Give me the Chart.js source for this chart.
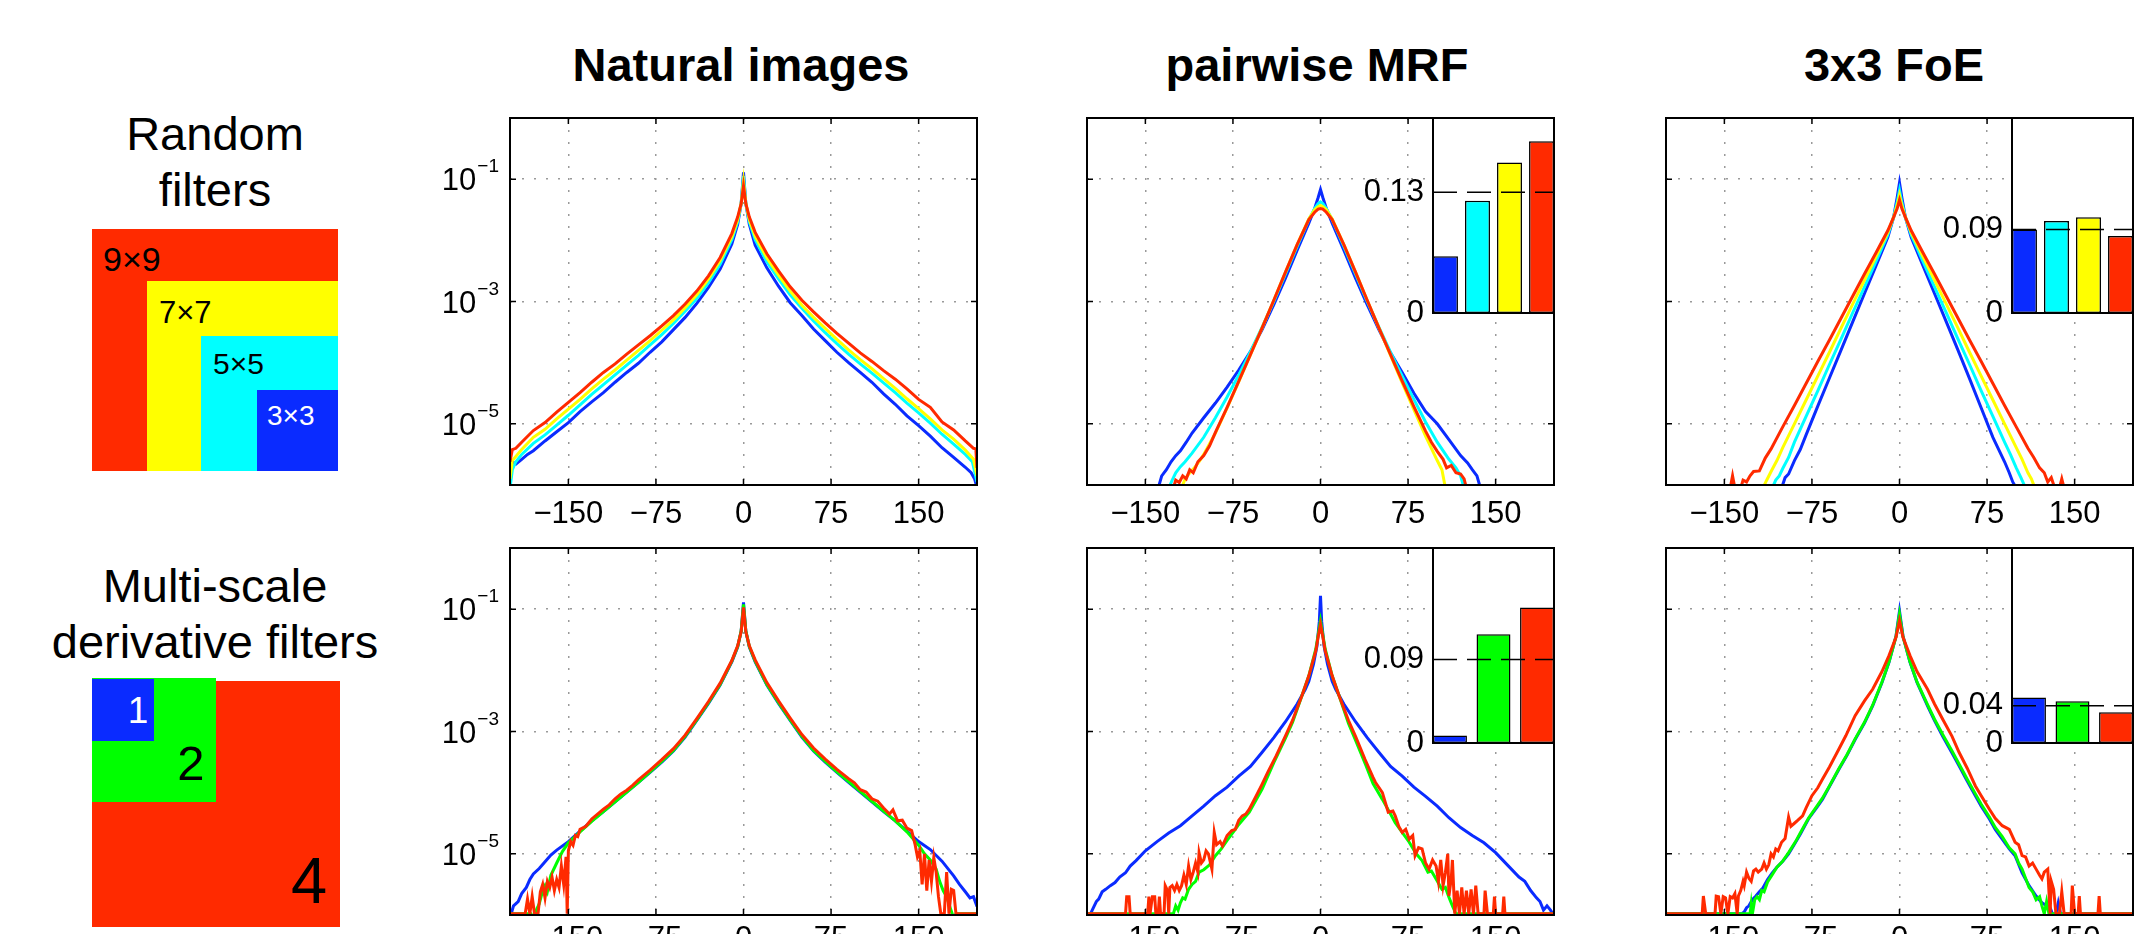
<!DOCTYPE html>
<html>
<head>
<meta charset="utf-8">
<script src="https://cdn.jsdelivr.net/npm/chart.js@4.4.1/dist/chart.umd.min.js"></script>
<style>
  html, body { margin: 0; padding: 0; width: 2146px; height: 934px; overflow: hidden; background: #fff; }
  body { position: relative; font-family: "Liberation Sans", Arial, Helvetica, sans-serif; color: #000; }
  canvas { position: absolute; }
  .title { position: absolute; width: 600px; text-align: center; font-weight: bold; font-size: 47px; line-height: 47px; white-space: nowrap; }
  .side { position: absolute; left: 5px; width: 420px; text-align: center; font-size: 47px; line-height: 56px; }
  .sq { position: absolute; }
  .lbl { position: absolute; line-height: 1; white-space: nowrap; }
</style>
</head>
<body>

<div class="title" style="left:441px; top:41px">Natural images</div>
<div class="title" style="left:1017px; top:41px">pairwise MRF</div>
<div class="title" style="left:1594px; top:41px">3x3 FoE</div>

<div class="side" style="top:106px">Random<br>filters</div>
<div class="sq" style="left:92px; top:229px; width:246px; height:242px; background:#ff2a00"></div>
<div class="sq" style="left:147px; top:281px; width:191px; height:190px; background:#ffff00"></div>
<div class="sq" style="left:201px; top:336px; width:137px; height:135px; background:#00ffff"></div>
<div class="sq" style="left:257px; top:390px; width:81px; height:81px; background:#0a2bff"></div>
<div class="lbl" style="left:103px; top:242px; font-size:34px">9×9</div>
<div class="lbl" style="left:159px; top:297px; font-size:31px">7×7</div>
<div class="lbl" style="left:213px; top:349px; font-size:30px">5×5</div>
<div class="lbl" style="left:267px; top:402px; font-size:28px; color:#fff">3×3</div>

<div class="side" style="top:558px">Multi-scale<br>derivative filters</div>
<div class="sq" style="left:92px; top:681px; width:248px; height:246px; background:#ff2a00"></div>
<div class="sq" style="left:92px; top:678px; width:124px; height:124px; background:#00ff00"></div>
<div class="sq" style="left:92px; top:679px; width:62px; height:62px; background:#0a2bff"></div>
<div class="lbl" style="left:88px; width:100px; text-align:center; top:692px; font-size:37px; color:#fff">1</div>
<div class="lbl" style="left:141px; width:100px; text-align:center; top:739px; font-size:49px">2</div>
<div class="lbl" style="left:259px; width:100px; text-align:center; top:848px; font-size:65px">4</div>

<script>
const FONT = '"Liberation Sans", Arial, Helvetica, sans-serif';
Chart.defaults.font.family = FONT;
Chart.defaults.color = '#000';

const BLUE = '#0a2bff', CYAN = '#00ffff', YELLOW = '#ffff00', RED = '#ff2a00', GREEN = '#00ff00';
const randColors = [BLUE, CYAN, YELLOW, RED];
const multiColors = [BLUE, GREEN, RED];

const xTicks = [-150, -75, 0, 75, 150];
const yTickExps = [-1, -3, -5];

// curves: [filter response, log10 density]

// Random filters / natural images
const natRandBlue = [[-200,-5.98],[-198,-5.62],[-195,-5.66],[-190,-5.58],[-185,-5.5],[-180,-5.44],[-170,-5.28],[-160,-5.13],[-150,-4.98],[-140,-4.8],[-130,-4.64],[-120,-4.49],[-110,-4.32],[-100,-4.16],[-90,-4.01],[-80,-3.83],[-70,-3.66],[-60,-3.46],[-50,-3.26],[-40,-3.03],[-30,-2.77],[-20,-2.47],[-10,-2.06],[-5,-1.74],[-2,-1.4],[0,-0.89],[2,-1.4],[5,-1.74],[10,-2.08],[20,-2.45],[30,-2.75],[40,-3.02],[50,-3.23],[60,-3.45],[70,-3.64],[80,-3.83],[90,-4.0],[100,-4.16],[110,-4.32],[120,-4.51],[130,-4.68],[140,-4.87],[150,-5.03],[160,-5.2],[170,-5.39],[180,-5.55],[190,-5.71],[195,-5.8],[198,-5.9],[200,-6.05]];
const natRandCyan = [[-200,-6.05],[-198,-5.75],[-195,-5.62],[-190,-5.5],[-180,-5.32],[-170,-5.18],[-160,-5.02],[-150,-4.86],[-140,-4.69],[-130,-4.52],[-120,-4.36],[-110,-4.2],[-100,-4.04],[-90,-3.88],[-80,-3.71],[-70,-3.54],[-60,-3.36],[-50,-3.16],[-40,-2.95],[-30,-2.69],[-20,-2.39],[-10,-1.99],[-5,-1.7],[-2,-1.4],[0,-0.95],[2,-1.4],[5,-1.7],[10,-1.99],[20,-2.35],[30,-2.63],[40,-2.89],[50,-3.11],[60,-3.32],[70,-3.51],[80,-3.69],[90,-3.86],[100,-4.02],[110,-4.17],[120,-4.33],[130,-4.49],[140,-4.66],[150,-4.82],[160,-4.99],[170,-5.17],[180,-5.33],[190,-5.5],[196,-5.62],[200,-5.95]];
const natRandYellow = [[-200,-5.9],[-198,-5.6],[-190,-5.42],[-180,-5.22],[-170,-5.09],[-160,-4.92],[-150,-4.76],[-140,-4.6],[-130,-4.43],[-120,-4.27],[-110,-4.12],[-100,-3.96],[-90,-3.8],[-80,-3.64],[-70,-3.47],[-60,-3.3],[-50,-3.1],[-40,-2.89],[-30,-2.63],[-20,-2.33],[-10,-1.94],[-5,-1.66],[-2,-1.4],[0,-1.04],[2,-1.4],[5,-1.66],[10,-1.93],[20,-2.29],[30,-2.57],[40,-2.83],[50,-3.06],[60,-3.26],[70,-3.44],[80,-3.62],[90,-3.79],[100,-3.95],[110,-4.1],[120,-4.26],[130,-4.42],[140,-4.59],[150,-4.75],[160,-4.92],[170,-5.1],[180,-5.25],[190,-5.43],[197,-5.58],[200,-5.85]];
const natRandRed = [[-200,-5.62],[-198,-5.42],[-195,-5.4],[-190,-5.3],[-180,-5.11],[-170,-4.98],[-160,-4.81],[-150,-4.65],[-140,-4.49],[-130,-4.32],[-120,-4.16],[-110,-4.02],[-100,-3.86],[-90,-3.71],[-80,-3.56],[-70,-3.4],[-60,-3.23],[-50,-3.04],[-40,-2.83],[-30,-2.58],[-20,-2.28],[-10,-1.89],[-5,-1.62],[-2,-1.4],[0,-1.11],[2,-1.4],[5,-1.62],[10,-1.87],[20,-2.22],[30,-2.5],[40,-2.76],[50,-2.98],[60,-3.17],[70,-3.35],[80,-3.52],[90,-3.68],[100,-3.84],[110,-3.98],[120,-4.13],[130,-4.27],[140,-4.43],[150,-4.6],[160,-4.73],[170,-4.97],[180,-5.1],[190,-5.28],[197,-5.4],[199,-5.41],[200,-5.72]];

// Random filters / pairwise MRF
const mrfRandBlue = [[-139,-6.05],[-136,-5.85],[-132,-5.75],[-128,-5.62],[-124,-5.52],[-120,-5.44],[-115,-5.3],[-110,-5.15],[-100,-4.9],[-90,-4.66],[-80,-4.4],[-70,-4.12],[-60,-3.82],[-50,-3.46],[-40,-3.05],[-30,-2.62],[-20,-2.16],[-10,-1.72],[-5,-1.48],[-2,-1.3],[0,-1.17],[2,-1.3],[5,-1.48],[10,-1.72],[20,-2.16],[30,-2.62],[40,-3.05],[50,-3.46],[60,-3.84],[70,-4.16],[80,-4.5],[90,-4.8],[100,-5.0],[110,-5.26],[120,-5.52],[126,-5.64],[130,-5.75],[134,-5.85],[137,-6.05]];
const mrfRandCyan = [[-130,-6.05],[-127,-5.92],[-124,-5.8],[-120,-5.7],[-116,-5.62],[-110,-5.48],[-100,-5.22],[-90,-4.9],[-80,-4.56],[-70,-4.2],[-60,-3.82],[-50,-3.42],[-40,-3.0],[-30,-2.55],[-20,-2.1],[-10,-1.66],[-5,-1.48],[-2,-1.4],[0,-1.37],[2,-1.4],[5,-1.48],[10,-1.66],[20,-2.1],[30,-2.55],[40,-3.0],[50,-3.42],[60,-3.83],[70,-4.22],[80,-4.6],[90,-4.97],[100,-5.3],[110,-5.58],[116,-5.72],[120,-5.85],[123,-6.05]];
const mrfRandYellow = [[-119,-6.05],[-116,-5.9],[-112,-5.8],[-108,-5.72],[-104,-5.62],[-100,-5.5],[-90,-5.15],[-80,-4.74],[-70,-4.31],[-60,-3.87],[-50,-3.43],[-40,-2.98],[-30,-2.52],[-20,-2.07],[-10,-1.65],[-5,-1.5],[-2,-1.45],[0,-1.43],[2,-1.45],[5,-1.5],[10,-1.65],[20,-2.07],[30,-2.52],[40,-2.98],[50,-3.43],[60,-3.88],[70,-4.33],[80,-4.77],[90,-5.2],[100,-5.6],[104,-5.75],[107,-6.05]];
const mrfRandRed = [[-126,-6.05],[-124,-5.92],[-121,-5.96],[-118,-5.85],[-115,-5.9],[-112,-5.75],[-109,-5.8],[-105,-5.62],[-100,-5.52],[-95,-5.36],[-90,-5.14],[-80,-4.73],[-70,-4.3],[-60,-3.87],[-50,-3.43],[-40,-2.98],[-30,-2.52],[-20,-2.07],[-10,-1.66],[-5,-1.54],[-2,-1.49],[0,-1.48],[2,-1.49],[5,-1.54],[10,-1.66],[20,-2.07],[30,-2.52],[40,-2.98],[50,-3.43],[60,-3.87],[70,-4.3],[80,-4.72],[90,-5.12],[95,-5.3],[100,-5.45],[105,-5.58],[108,-5.72],[112,-5.68],[116,-5.8],[120,-5.82],[123,-5.9],[125,-6.05]];

// Random filters / 3x3 FoE
const foeRandBlue = [[-101,-6.05],[-98,-5.88],[-95,-5.82],[-90,-5.6],[-85,-5.42],[-80,-5.18],[-70,-4.71],[-60,-4.25],[-50,-3.79],[-40,-3.33],[-30,-2.87],[-20,-2.41],[-10,-1.95],[-5,-1.62],[-2,-1.3],[0,-1.06],[2,-1.3],[5,-1.62],[10,-1.95],[20,-2.41],[30,-2.87],[40,-3.33],[50,-3.79],[60,-4.26],[70,-4.74],[80,-5.22],[85,-5.42],[90,-5.62],[94,-5.8],[97,-5.95],[100,-6.05]];
const foeRandCyan = [[-109,-6.05],[-106,-5.92],[-103,-5.85],[-100,-5.73],[-95,-5.55],[-90,-5.3],[-80,-4.88],[-70,-4.46],[-60,-4.03],[-50,-3.61],[-40,-3.18],[-30,-2.76],[-20,-2.34],[-10,-1.91],[-5,-1.62],[-2,-1.38],[0,-1.18],[2,-1.38],[5,-1.62],[10,-1.91],[20,-2.34],[30,-2.76],[40,-3.18],[50,-3.61],[60,-4.03],[70,-4.46],[80,-4.88],[90,-5.3],[95,-5.5],[100,-5.72],[104,-5.88],[108,-6.05]];
const foeRandYellow = [[-117,-6.05],[-114,-5.93],[-110,-5.78],[-105,-5.6],[-100,-5.39],[-90,-5.0],[-80,-4.61],[-70,-4.22],[-60,-3.83],[-50,-3.43],[-40,-3.04],[-30,-2.65],[-20,-2.26],[-10,-1.87],[-5,-1.62],[-2,-1.43],[0,-1.26],[2,-1.43],[5,-1.62],[10,-1.87],[20,-2.26],[30,-2.65],[40,-3.04],[50,-3.43],[60,-3.83],[70,-4.22],[80,-4.61],[90,-5.0],[100,-5.39],[105,-5.58],[110,-5.8],[113,-5.9],[116,-6.05]];
const foeRandRed = [[-145,-6.05],[-143,-5.85],[-141,-6.05],[-136,-6.05],[-134,-5.92],[-131,-5.95],[-128,-5.85],[-125,-5.78],[-120,-5.77],[-115,-5.56],[-110,-5.41],[-100,-5.05],[-90,-4.7],[-80,-4.34],[-70,-3.98],[-60,-3.63],[-50,-3.27],[-40,-2.91],[-30,-2.55],[-20,-2.2],[-10,-1.84],[-5,-1.62],[-2,-1.48],[0,-1.34],[2,-1.48],[5,-1.62],[10,-1.84],[20,-2.2],[30,-2.55],[40,-2.91],[50,-3.27],[60,-3.63],[70,-3.98],[80,-4.34],[90,-4.7],[100,-5.05],[110,-5.4],[115,-5.55],[120,-5.72],[124,-5.8],[127,-5.95],[130,-5.88],[133,-6.05],[137,-6.05],[139,-5.9],[141,-6.05]];

// Multi-scale derivative filters / natural images
const natMultiBlue = [[-200,-6.05],[-197,-5.85],[-193,-5.78],[-190,-5.65],[-186,-5.55],[-183,-5.42],[-180,-5.33],[-175,-5.24],[-170,-5.13],[-165,-5.02],[-160,-4.94],[-150,-4.8],[-140,-4.63],[-130,-4.46],[-120,-4.31],[-110,-4.15],[-100,-3.99],[-90,-3.83],[-80,-3.67],[-70,-3.5],[-60,-3.32],[-50,-3.09],[-40,-2.82],[-30,-2.54],[-20,-2.24],[-10,-1.86],[-5,-1.62],[-2,-1.36],[0,-0.89],[2,-1.36],[5,-1.62],[10,-1.86],[20,-2.24],[30,-2.54],[40,-2.82],[50,-3.09],[60,-3.32],[70,-3.5],[80,-3.67],[90,-3.83],[100,-3.99],[110,-4.15],[120,-4.31],[130,-4.46],[140,-4.63],[150,-4.8],[160,-4.93],[170,-5.12],[180,-5.36],[185,-5.5],[190,-5.62],[194,-5.72],[197,-5.7],[200,-5.86]];
const natMultiGreen = [[-200,-5.98],[-182,-5.98],[-180,-6.05],[-177,-5.9],[-175,-5.82],[-172,-5.6],[-170,-5.52],[-168,-5.62],[-165,-5.35],[-160,-5.15],[-155,-4.96],[-150,-4.82],[-140,-4.64],[-130,-4.47],[-120,-4.31],[-110,-4.15],[-100,-3.99],[-90,-3.83],[-80,-3.66],[-70,-3.49],[-60,-3.31],[-50,-3.08],[-40,-2.81],[-30,-2.53],[-20,-2.23],[-10,-1.85],[-5,-1.61],[-2,-1.36],[0,-0.92],[2,-1.36],[5,-1.61],[10,-1.85],[20,-2.23],[30,-2.53],[40,-2.81],[50,-3.08],[60,-3.31],[70,-3.49],[80,-3.66],[90,-3.82],[100,-3.98],[110,-4.14],[120,-4.3],[130,-4.46],[140,-4.64],[150,-4.86],[155,-5.0],[160,-5.1],[165,-5.25],[168,-5.45],[171,-5.6],[174,-5.7],[177,-5.88],[180,-6.05],[182,-5.98],[200,-5.98]];
const natMultiRed = [[-200,-5.98],[-187,-5.98],[-185,-5.74],[-183,-5.98],[-181,-5.7],[-179,-5.98],[-176,-5.98],[-174,-5.62],[-172,-5.5],[-170,-5.72],[-168,-5.45],[-166,-5.55],[-164,-5.38],[-162,-5.6],[-160,-5.42],[-158,-5.55],[-156,-5.2],[-154,-5.5],[-152,-5.05],[-151,-5.98],[-150,-4.95],[-148,-4.8],[-146,-4.86],[-144,-4.7],[-142,-4.72],[-140,-4.6],[-135,-4.55],[-130,-4.43],[-125,-4.35],[-120,-4.27],[-115,-4.2],[-110,-4.1],[-105,-4.02],[-100,-3.96],[-95,-3.88],[-90,-3.79],[-80,-3.63],[-70,-3.46],[-60,-3.28],[-50,-3.06],[-40,-2.79],[-30,-2.51],[-20,-2.21],[-10,-1.84],[-5,-1.6],[-2,-1.37],[0,-0.97],[2,-1.37],[5,-1.6],[10,-1.83],[20,-2.2],[30,-2.5],[40,-2.78],[50,-3.05],[60,-3.27],[70,-3.45],[80,-3.62],[90,-3.77],[95,-3.84],[100,-3.95],[105,-3.99],[110,-4.1],[115,-4.14],[120,-4.25],[125,-4.35],[128,-4.28],[132,-4.46],[136,-4.45],[140,-4.58],[144,-4.62],[147,-4.85],[149,-5.05],[151,-4.95],[153,-5.5],[155,-5.0],[157,-5.6],[159,-5.1],[161,-5.45],[163,-5.06],[165,-5.3],[167,-5.7],[169,-5.98],[172,-5.98],[174,-5.3],[176,-5.98],[178,-5.58],[180,-5.6],[182,-5.98],[200,-5.98]];

// Multi-scale derivative filters / pairwise MRF
const mrfMultiBlue = [[-200,-5.98],[-197,-5.98],[-195,-5.9],[-192,-5.78],[-190,-5.74],[-187,-5.62],[-184,-5.58],[-180,-5.52],[-176,-5.47],[-172,-5.38],[-167,-5.31],[-163,-5.2],[-158,-5.11],[-150,-4.95],[-140,-4.8],[-130,-4.66],[-120,-4.54],[-110,-4.38],[-100,-4.22],[-90,-4.05],[-80,-3.91],[-70,-3.73],[-60,-3.57],[-50,-3.34],[-40,-3.1],[-30,-2.84],[-20,-2.55],[-13,-2.31],[-10,-2.18],[-6,-1.9],[-3,-1.6],[-1,-1.2],[0,-0.78],[1,-1.2],[3,-1.6],[6,-1.9],[10,-2.18],[13,-2.31],[20,-2.55],[30,-2.84],[40,-3.1],[50,-3.34],[60,-3.57],[70,-3.73],[80,-3.91],[90,-4.06],[100,-4.22],[110,-4.41],[120,-4.57],[130,-4.7],[140,-4.82],[150,-4.98],[160,-5.18],[170,-5.38],[175,-5.45],[180,-5.6],[185,-5.72],[188,-5.78],[191,-5.92],[194,-5.85],[197,-5.92],[199,-5.98],[200,-5.98]];
const mrfMultiGreen = [[-200,-5.98],[-126,-5.98],[-124,-5.85],[-122,-5.92],[-120,-5.8],[-118,-5.72],[-116,-5.74],[-113,-5.58],[-110,-5.5],[-107,-5.45],[-104,-5.3],[-100,-5.26],[-95,-5.18],[-90,-5.03],[-85,-4.92],[-80,-4.78],[-73,-4.6],[-70,-4.52],[-61,-4.32],[-50,-3.94],[-40,-3.51],[-30,-3.11],[-24,-2.85],[-16,-2.42],[-10,-2.09],[-4,-1.65],[-2,-1.42],[0,-1.19],[2,-1.42],[4,-1.65],[10,-2.09],[16,-2.42],[24,-2.87],[30,-3.14],[39,-3.56],[45,-3.85],[53,-4.11],[60,-4.35],[64,-4.49],[70,-4.65],[76,-4.81],[82,-5.0],[87,-5.11],[92,-5.3],[95,-5.28],[99,-5.41],[104,-5.58],[107,-5.55],[110,-5.71],[113,-5.85],[116,-5.98],[200,-5.98]];
const mrfMultiRed = [[-200,-5.98],[-167,-5.98],[-166,-5.7],[-164,-5.7],[-163,-5.98],[-148,-5.98],[-147,-5.7],[-146,-5.98],[-144,-5.7],[-142,-5.7],[-141,-5.98],[-139,-5.98],[-138,-5.7],[-137,-5.98],[-134,-5.98],[-133,-5.52],[-131,-5.6],[-130,-5.98],[-129,-5.55],[-127,-5.52],[-125,-5.6],[-123,-5.5],[-121,-5.6],[-119,-5.52],[-117,-5.35],[-115,-5.5],[-113,-5.2],[-111,-5.42],[-109,-5.3],[-107,-5.15],[-105,-5.3],[-104,-4.98],[-102,-5.15],[-100,-5.1],[-98,-4.95],[-96,-5.0],[-93,-5.25],[-91,-4.65],[-89,-4.85],[-86,-4.8],[-84,-4.87],[-80,-4.7],[-76,-4.62],[-73,-4.6],[-70,-4.45],[-67,-4.38],[-64,-4.35],[-61,-4.27],[-55,-4.05],[-50,-3.86],[-45,-3.66],[-38,-3.4],[-30,-3.07],[-24,-2.82],[-16,-2.42],[-10,-2.09],[-4,-1.68],[-2,-1.45],[0,-1.25],[2,-1.45],[4,-1.68],[10,-2.09],[16,-2.42],[24,-2.82],[30,-3.08],[38,-3.45],[45,-3.75],[47,-3.83],[53,-4.0],[58,-4.32],[62,-4.3],[64,-4.38],[67,-4.55],[70,-4.65],[73,-4.6],[76,-4.76],[79,-4.7],[81,-5.03],[84,-4.9],[87,-4.92],[90,-5.15],[93,-5.25],[96,-5.1],[99,-5.2],[101,-5.45],[103,-5.1],[105,-5.52],[107,-5.3],[109,-5.0],[110,-5.69],[112,-5.4],[113,-5.1],[115,-5.98],[117,-5.6],[119,-5.98],[121,-5.55],[123,-5.98],[125,-5.6],[127,-5.98],[129,-5.58],[131,-5.98],[133,-5.52],[135,-5.98],[140,-5.98],[141,-5.6],[143,-5.98],[148,-5.98],[149,-5.7],[150,-5.98],[156,-5.98],[157,-5.7],[158,-5.98],[200,-5.98]];

// Multi-scale derivative filters / 3x3 FoE
const foeMultiBlue = [[-200,-5.98],[-135,-5.98],[-133,-5.95],[-131,-5.88],[-129,-5.85],[-126,-5.75],[-123,-5.69],[-120,-5.62],[-117,-5.56],[-113,-5.42],[-109,-5.31],[-105,-5.22],[-100,-5.12],[-95,-5.0],[-89,-4.81],[-85,-4.68],[-78,-4.43],[-70,-4.22],[-66,-4.11],[-60,-3.9],[-52,-3.62],[-45,-3.39],[-38,-3.13],[-30,-2.86],[-23,-2.58],[-15,-2.2],[-9,-1.87],[-3,-1.44],[0,-1.03],[3,-1.44],[9,-1.87],[15,-2.2],[24,-2.58],[30,-2.82],[37,-3.08],[45,-3.35],[51,-3.56],[58,-3.81],[65,-4.05],[70,-4.22],[77,-4.43],[82,-4.6],[88,-4.76],[94,-4.92],[99,-5.03],[105,-5.31],[111,-5.52],[117,-5.69],[122,-5.8],[126,-5.85],[129,-5.88],[131,-5.98],[134,-5.98],[136,-5.8],[138,-5.98],[200,-5.98]];
const foeMultiGreen = [[-200,-5.98],[-128,-5.98],[-127,-5.82],[-126,-5.98],[-124,-5.75],[-122,-5.7],[-120,-5.75],[-118,-5.6],[-116,-5.62],[-113,-5.46],[-109,-5.34],[-105,-5.22],[-100,-5.12],[-95,-4.98],[-89,-4.8],[-85,-4.66],[-78,-4.42],[-70,-4.2],[-66,-4.09],[-60,-3.89],[-52,-3.61],[-45,-3.38],[-38,-3.12],[-30,-2.85],[-23,-2.57],[-15,-2.19],[-9,-1.86],[-3,-1.45],[0,-1.08],[3,-1.45],[9,-1.86],[15,-2.19],[24,-2.56],[30,-2.8],[37,-3.05],[45,-3.32],[51,-3.53],[58,-3.78],[65,-4.02],[70,-4.19],[77,-4.4],[82,-4.57],[88,-4.72],[94,-4.9],[99,-5.0],[102,-5.15],[105,-5.25],[108,-5.4],[111,-5.55],[114,-5.62],[117,-5.75],[120,-5.7],[122,-5.85],[124,-5.98],[126,-5.78],[128,-5.98],[200,-5.98]];
const foeMultiRed = [[-200,-5.98],[-169,-5.98],[-168,-5.69],[-166,-5.98],[-158,-5.98],[-157,-5.69],[-155,-5.7],[-153,-5.98],[-151,-5.7],[-149,-5.72],[-147,-5.98],[-145,-5.7],[-143,-5.72],[-141,-5.65],[-139,-5.98],[-138,-5.69],[-136,-5.6],[-134,-5.45],[-133,-5.52],[-131,-5.3],[-129,-5.4],[-127,-5.45],[-125,-5.28],[-123,-5.25],[-121,-5.3],[-118,-5.25],[-116,-5.15],[-114,-5.25],[-112,-5.18],[-110,-5.0],[-108,-5.05],[-106,-4.92],[-104,-4.95],[-101,-4.81],[-98,-4.75],[-95,-4.4],[-93,-4.55],[-90,-4.5],[-87,-4.45],[-83,-4.38],[-80,-4.25],[-75,-4.05],[-70,-3.92],[-66,-3.78],[-60,-3.58],[-52,-3.29],[-46,-3.07],[-38,-2.74],[-30,-2.5],[-23,-2.31],[-15,-2.02],[-9,-1.76],[-3,-1.46],[0,-1.19],[3,-1.46],[9,-1.76],[15,-2.02],[24,-2.31],[30,-2.55],[37,-2.8],[45,-3.08],[51,-3.34],[58,-3.6],[65,-3.89],[70,-4.05],[77,-4.27],[82,-4.42],[88,-4.54],[94,-4.6],[99,-4.81],[102,-4.85],[105,-5.03],[108,-5.05],[111,-5.2],[114,-5.15],[117,-5.25],[120,-5.35],[122,-5.41],[124,-5.3],[127,-5.25],[129,-5.98],[130,-5.45],[132,-5.58],[134,-5.98],[137,-5.98],[139,-5.62],[141,-5.98],[147,-5.98],[148,-5.52],[150,-5.98],[153,-5.98],[154,-5.69],[155,-5.98],[170,-5.98],[171,-5.69],[172,-5.98],[200,-5.98]];

// inset bars and dashed reference levels
const mrfRandBars = [0.061, 0.121, 0.162, 0.185];
const foeRandBars = [0.090, 0.099, 0.103, 0.083];
const mrfMultiBars = [0.008, 0.117, 0.146];
const foeMultiBars = [0.049, 0.045, 0.033];
const mrfRandLevel = 0.13, foeRandLevel = 0.09, mrfMultiLevel = 0.09, foeMultiLevel = 0.04;
const INSET_MAX = 0.21;

const boxLefts = [510, 1087, 1666];
const boxTops = [118, 548];
const BOX_W = 467, BOX_H = 367;
const INSET_W = 121, INSET_H = 195;

const panels = [
  { row: 0, col: 0, colors: randColors, series: [natRandBlue, natRandCyan, natRandYellow, natRandRed] },
  { row: 0, col: 1, colors: randColors, series: [mrfRandBlue, mrfRandCyan, mrfRandYellow, mrfRandRed], bars: mrfRandBars, level: mrfRandLevel },
  { row: 0, col: 2, colors: randColors, series: [foeRandBlue, foeRandCyan, foeRandYellow, foeRandRed], bars: foeRandBars, level: foeRandLevel },
  { row: 1, col: 0, colors: multiColors, series: [natMultiBlue, natMultiGreen, natMultiRed] },
  { row: 1, col: 1, colors: multiColors, series: [mrfMultiBlue, mrfMultiGreen, mrfMultiRed], bars: mrfMultiBars, level: mrfMultiLevel },
  { row: 1, col: 2, colors: multiColors, series: [foeMultiBlue, foeMultiGreen, foeMultiRed], bars: foeMultiBars, level: foeMultiLevel },
];

function makeCanvas(left, top, w, h) {
  const cv = document.createElement('canvas');
  cv.width = w; cv.height = h;
  cv.style.left = left + 'px'; cv.style.top = top + 'px';
  cv.style.width = w + 'px'; cv.style.height = h + 'px';
  document.body.appendChild(cv);
  return cv;
}

// box, inward tick marks
const frame = {
  id: 'frame',
  afterDatasetsDraw(chart) {
    const {ctx, chartArea: a, scales} = chart;
    ctx.save();
    ctx.strokeStyle = '#000';
    ctx.lineWidth = 1.5;
    ctx.beginPath();
    for (const v of xTicks) {
      const px = scales.x.getPixelForValue(v);
      ctx.moveTo(px, a.bottom); ctx.lineTo(px, a.bottom - 6);
      ctx.moveTo(px, a.top); ctx.lineTo(px, a.top + 6);
    }
    for (const e of yTickExps) {
      const py = scales.y.getPixelForValue(10 ** e);
      ctx.moveTo(a.left, py); ctx.lineTo(a.left + 6, py);
      ctx.moveTo(a.right, py); ctx.lineTo(a.right - 6, py);
    }
    ctx.stroke();
    ctx.lineWidth = 2;
    ctx.strokeRect(a.left, a.top, a.right - a.left, a.bottom - a.top);
    ctx.restore();
  }
};

// 10^e labels on the left column
const powerLabels = {
  id: 'powerLabels',
  afterDraw(chart) {
    const {ctx, chartArea: a, scales} = chart;
    ctx.save();
    ctx.fillStyle = '#000';
    ctx.textAlign = 'right';
    ctx.textBaseline = 'alphabetic';
    for (const e of yTickExps) {
      const py = scales.y.getPixelForValue(10 ** e);
      const exp = '\u2212' + Math.abs(e);
      ctx.font = '19px ' + FONT;
      const ew = ctx.measureText(exp).width;
      ctx.fillText(exp, a.left - 11, py - 7);
      ctx.font = '31px ' + FONT;
      ctx.fillText('10', a.left - 12 - ew, py + 11);
    }
    ctx.restore();
  }
};

function drawPanel(p) {
  const left = boxLefts[p.col], top = boxTops[p.row];
  const cv = makeCanvas(left - 130, top - 10, BOX_W + 140, BOX_H + 70);
  const n = p.series.length;
  new Chart(cv, {
    type: 'line',
    data: {
      datasets: p.series.map((s, i) => ({
        data: s.map(([x, e]) => ({x, y: 10 ** e})),
        borderColor: p.colors[i],
        borderWidth: 3,
        pointRadius: 0,
        tension: 0,
        fill: false,
        order: n - i,
      })),
    },
    options: {
      responsive: false,
      animation: false,
      events: [],
      layout: {padding: {top: 10, right: 10, left: 0, bottom: 0}},
      plugins: {legend: {display: false}, tooltip: {enabled: false}},
      scales: {
        x: {
          type: 'linear', min: -200, max: 200,
          afterBuildTicks: (s) => { s.ticks = xTicks.map((v) => ({value: v})); },
          afterFit: (s) => { s.height = 60; s.paddingLeft = 0; s.paddingRight = 0; },
          grid: {color: '#9a9a9a', lineWidth: 1.5, drawTicks: false},
          border: {display: false, dash: [2, 10]},
          ticks: {
            font: {size: 31}, padding: p.row ? 6 : 11, maxRotation: 0, autoSkip: false,
            callback: (v) => String(v).replace('-', '\u2212'),
          },
        },
        y: {
          type: 'logarithmic', min: 1e-6, max: 1,
          afterBuildTicks: (s) => { s.ticks = yTickExps.map((e) => ({value: 10 ** e})); },
          afterFit: (s) => { s.width = 130; s.paddingTop = 0; s.paddingBottom = 0; },
          grid: {color: '#9a9a9a', lineWidth: 1.5, drawTicks: false},
          border: {display: false, dash: [2, 10]},
          ticks: {display: false},
        },
      },
    },
    plugins: p.col === 0 ? [frame, powerLabels] : [frame],
  });
}

const insetBg = {
  id: 'insetBg',
  beforeDraw(chart) {
    const {ctx, chartArea: a} = chart;
    ctx.save();
    ctx.fillStyle = '#fff';
    ctx.fillRect(a.left, a.top, a.right - a.left, a.bottom - a.top);
    ctx.restore();
  }
};

const insetDecor = {
  id: 'insetDecor',
  afterDatasetsDraw(chart, args, opts) {
    const {ctx, chartArea: a, scales} = chart;
    const py = scales.y.getPixelForValue(opts.level);
    ctx.save();
    ctx.strokeStyle = '#000';
    ctx.lineWidth = 1.5;
    ctx.setLineDash([24, 10]);
    ctx.beginPath();
    ctx.moveTo(a.left, py); ctx.lineTo(a.right, py);
    ctx.stroke();
    ctx.setLineDash([]);
    ctx.lineWidth = 2;
    ctx.strokeRect(a.left, a.top, a.right - a.left, a.bottom - a.top);
    ctx.restore();
  }
};

function drawInset(p) {
  const right = boxLefts[p.col] + BOX_W, top = boxTops[p.row];
  const cv = makeCanvas(right - INSET_W - 80, top - 2, INSET_W + 82, INSET_H + 32);
  new Chart(cv, {
    type: 'bar',
    data: {
      datasets: [{
        data: p.bars.map((v, i) => ({x: i + 1, y: v})),
        backgroundColor: p.colors,
        borderColor: '#000',
        borderWidth: 1.5,
        borderSkipped: false,
        barPercentage: 0.78,
        categoryPercentage: 1,
      }],
    },
    options: {
      responsive: false,
      animation: false,
      events: [],
      layout: {padding: {top: 2, right: 2, bottom: 30, left: 0}},
      plugins: {legend: {display: false}, tooltip: {enabled: false}, insetDecor: {level: p.level}},
      scales: {
        x: {type: 'linear', display: false, offset: false, min: 0.61, max: p.bars.length + 0.39},
        y: {
          min: 0, max: INSET_MAX,
          afterBuildTicks: (s) => { s.ticks = [0, p.level].map((v) => ({value: v})); },
          afterFit: (s) => { s.width = 80; s.paddingTop = 0; s.paddingBottom = 0; },
          grid: {display: false, drawTicks: false},
          border: {display: false},
          ticks: {font: {size: 31}, padding: 9, callback: (v) => (v === 0 ? '0' : v.toFixed(2))},
        },
      },
    },
    plugins: [insetBg, insetDecor],
  });
}

panels.forEach(drawPanel);
panels.filter((p) => p.bars).forEach(drawInset);
</script>
</body>
</html>
